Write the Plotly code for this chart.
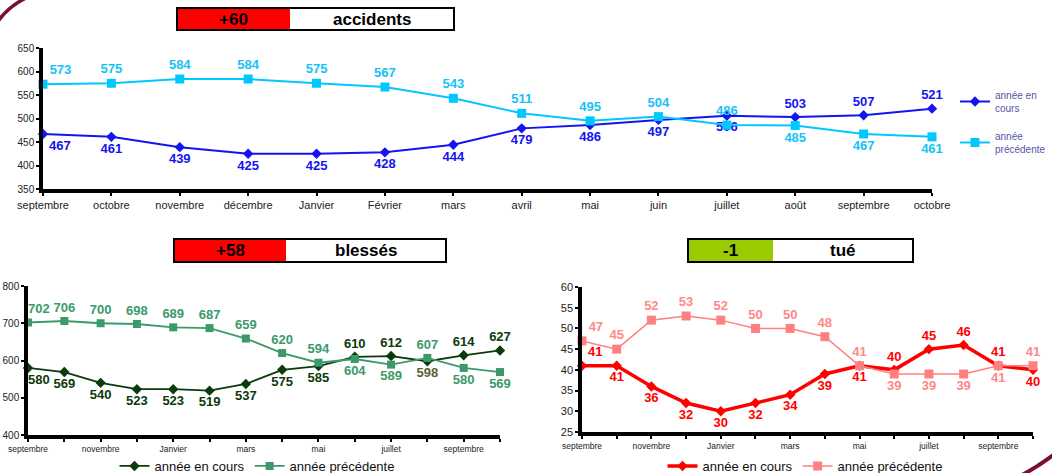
import plotly.graph_objects as go

W, H = 1052, 473

months = ["septembre", "octobre", "novembre", "décembre", "Janvier", "Février", "mars",
          "avril", "mai", "juin", "juillet", "août", "septembre", "octobre"]

acc_cur = [467, 461, 439, 425, 425, 428, 444, 479, 486, 497, 506, 503, 507, 521]
acc_prev = [573, 575, 584, 584, 575, 567, 543, 511, 495, 504, 486, 485, 467, 461]

bles_cur = [580, 569, 540, 523, 523, 519, 537, 575, 585, 610, 612, 598, 614, 627]
bles_prev = [702, 706, 700, 698, 689, 687, 659, 620, 594, 604, 589, 607, 580, 569]

tue_cur = [41, 41, 36, 32, 30, 32, 34, 39, 41, 40, 45, 46, 41, 40]
tue_prev = [47, 45, 52, 53, 52, 50, 50, 48, 41, 39, 39, 39, 41, 41]

titles = [("+60", "accidents"), ("+58", "blessés"), ("-1", "tué")]
serie_names = ["année en cours", "année précédente"]

FONT = "Liberation Sans, Arial, sans-serif"


def px(x):
    return x / W


def py(y):
    return (H - y) / H


x = list(range(len(months)))

# text positions
acc_cur_pos = ["bottom right"] + ["bottom center"] * 10 + ["top center"] * 3
acc_prev_pos = ["top right"] + ["top center"] * 10 + ["bottom center"] * 3
bl_cur_pos = ["bottom center"] * 9 + ["top center"] * 2 + ["bottom center"] + ["top center"] * 2
bl_prev_pos = ["top center"] * 9 + ["bottom center"] * 2 + ["top center"] + ["bottom center"] * 2
tu_cur_pos = ["top right"] + ["bottom center"] * 8 + ["top center"] * 4 + ["bottom center"]
tu_prev_pos = ["top right"] + ["top center"] * 8 + ["bottom center"] * 4 + ["top center"]

NB = "\u00a0" * 6  # padding so the first label of the small chart sits just right of the axis


def labels(vals, pad_first=False):
    out = [str(v) for v in vals]
    if pad_first:
        out[0] = NB + out[0]
    return out


fig = go.Figure()

lbl_font = dict(family=FONT, size=13)

# ---- top chart: accidents
fig.add_trace(go.Scatter(
    x=x, y=acc_cur, name="année en<br>cours", legend="legend", legendgroup="a",
    mode="lines+markers+text", text=labels(acc_cur), textposition=acc_cur_pos,
    line=dict(color="#1414f0", width=2), marker=dict(symbol="diamond", size=8, color="#1414f0"),
    textfont=dict(lbl_font, color="#1414f0", weight="bold"), cliponaxis=False,
    xaxis="x", yaxis="y"))
fig.add_trace(go.Scatter(
    x=x, y=acc_prev, name="année<br>précédente", legend="legend", legendgroup="b",
    mode="lines+markers+text", text=labels(acc_prev), textposition=acc_prev_pos,
    line=dict(color="#00c8ff", width=2), marker=dict(symbol="square", size=9, color="#00c8ff"),
    textfont=dict(lbl_font, color="#17c2f6", weight="bold"), cliponaxis=False,
    xaxis="x", yaxis="y"))

# ---- bottom-left: blessés
bl_cur_colors = ["#0b3a0b"] * len(bles_cur)
bl_cur_colors[11] = "#5a6238"
fig.add_trace(go.Scatter(
    x=x, y=bles_cur, name=serie_names[0], legend="legend2",
    mode="lines+markers+text", text=labels(bles_cur, True), textposition=bl_cur_pos,
    line=dict(color="#0b3a0b", width=1.8), marker=dict(symbol="diamond", size=8, color="#0b3a0b"),
    textfont=dict(lbl_font, color=bl_cur_colors, weight="bold"), cliponaxis=False,
    xaxis="x2", yaxis="y2"))
fig.add_trace(go.Scatter(
    x=x, y=bles_prev, name=serie_names[1], legend="legend2",
    mode="lines+markers+text", text=labels(bles_prev, True), textposition=bl_prev_pos,
    line=dict(color="#3a9a6a", width=1.8), marker=dict(symbol="square", size=8, color="#3a9a6a"),
    textfont=dict(lbl_font, color="#3a9a6a", weight="bold"), cliponaxis=False,
    xaxis="x2", yaxis="y2"))

# ---- bottom-right: tué
fig.add_trace(go.Scatter(
    x=x, y=tue_cur, name=serie_names[0], legend="legend3",
    mode="lines+markers+text", text=labels(tue_cur), textposition=tu_cur_pos,
    line=dict(color="#ff0000", width=3.5), marker=dict(symbol="diamond", size=8, color="#ff0000"),
    textfont=dict(lbl_font, color="#ff0000", weight="bold"), cliponaxis=False,
    xaxis="x3", yaxis="y3"))
fig.add_trace(go.Scatter(
    x=x, y=tue_prev, name=serie_names[1], legend="legend3",
    mode="lines+markers+text", text=labels(tue_prev), textposition=tu_prev_pos,
    line=dict(color="#ff8080", width=1.5), marker=dict(symbol="square", size=9, color="#ff8080"),
    textfont=dict(lbl_font, color="#ff8888", weight="bold"), cliponaxis=False,
    xaxis="x3", yaxis="y3"))

axis_common = dict(showline=True, linecolor="black", linewidth=3.5, ticks="outside",
                   ticklen=3, tickwidth=2, tickcolor="black", showgrid=False, zeroline=False,
                   automargin=False)

bottom_ticktext = [m if i % 2 == 0 else "" for i, m in enumerate(months)]

layout = dict(
    width=W, height=H, autosize=False,
    margin=dict(l=0, r=0, t=0, b=0, autoexpand=False),
    paper_bgcolor="white", plot_bgcolor="white",
    font=dict(family=FONT, color="#222"),
    xaxis=dict(axis_common, domain=[px(43), px(932)], range=[0, 13], tickvals=x, ticktext=months,
               tickfont=dict(size=11, color="#222"), anchor="y"),
    yaxis=dict(axis_common, domain=[py(189), py(48)], range=[350, 650], dtick=50,
               tickfont=dict(size=10, color="#222"), anchor="x"),
    xaxis2=dict(axis_common, domain=[px(28), px(500)], range=[0, 13], tickvals=x, ticktext=bottom_ticktext,
                tickfont=dict(size=8.5, color="#222"), anchor="y2"),
    yaxis2=dict(axis_common, domain=[py(435), py(286)], range=[400, 800], dtick=100,
                tickfont=dict(size=10, color="#222"), anchor="x2"),
    xaxis3=dict(axis_common, domain=[px(582), px(1033)], range=[0, 13], tickvals=x, ticktext=bottom_ticktext,
                tickfont=dict(size=8.5, color="#222"), anchor="y3"),
    yaxis3=dict(axis_common, domain=[py(432), py(287)], range=[25, 60], dtick=5,
                tickfont=dict(size=11, color="#222"), anchor="x3"),
    legend=dict(x=px(955), y=py(82), xanchor="left", yanchor="top", orientation="v",
                traceorder="grouped", tracegroupgap=12,
                font=dict(family=FONT, size=10, color="#5555a8"), bgcolor="rgba(0,0,0,0)",
                itemwidth=30),
    legend2=dict(x=px(257), y=py(466), xanchor="center", yanchor="middle", orientation="h",
                 font=dict(family=FONT, size=13, color="#111"), bgcolor="rgba(0,0,0,0)"),
    legend3=dict(x=px(805), y=py(466), xanchor="center", yanchor="middle", orientation="h",
                 font=dict(family=FONT, size=13, color="#111"), bgcolor="rgba(0,0,0,0)"),
    showlegend=True,
)
fig.update_layout(**layout)

# title boxes
boxes = [
    ((177, 290, 454), (8, 30), "#ff0000"),
    ((174, 286, 446), (239, 262), "#ff0000"),
    ((688, 773, 913), (239, 262), "#99cc00"),
]
shapes = []
annotations = []
for (xs, ys, col), (val, lab) in zip(boxes, titles):
    x0, xm, x1 = xs
    y0, y1 = ys
    shapes.append(dict(type="rect", xref="paper", yref="paper", x0=px(x0), x1=px(xm),
                       y0=py(y1), y1=py(y0), fillcolor=col, line=dict(width=0), layer="above"))
    shapes.append(dict(type="rect", xref="paper", yref="paper", x0=px(x0), x1=px(x1),
                       y0=py(y1), y1=py(y0), fillcolor="rgba(0,0,0,0)",
                       line=dict(color="black", width=2), layer="above"))
    annotations.append(dict(xref="paper", yref="paper", x=px((x0 + xm) / 2), y=py((y0 + y1) / 2),
                            text=f"<b>{val}</b>", showarrow=False, xanchor="center", yanchor="middle",
                            font=dict(family=FONT, size=17, color="black")))
    annotations.append(dict(xref="paper", yref="paper", x=px((xm + x1) / 2), y=py((y0 + y1) / 2),
                            text=f"<b>{lab}</b>", showarrow=False, xanchor="center", yanchor="middle",
                            font=dict(family=FONT, size=17, color="black")))


# decorative maroon arcs in corners
def pth(points):
    (ax, ay), (bx, by), (cx, cy) = points
    return f"M {px(ax)},{py(ay)} Q {px(bx)},{py(by)} {px(cx)},{py(cy)}"


shapes.append(dict(type="path", xref="paper", yref="paper", path=pth([(-4, 24), (8, 6), (28, -3)]),
                   line=dict(color="#7a1038", width=3.5)))
shapes.append(dict(type="path", xref="paper", yref="paper", path=pth([(1020, 476), (1036, 468), (1056, 453)]),
                   line=dict(color="#7a1038", width=4)))

fig.update_layout(shapes=shapes, annotations=annotations)

fig.write_html("out.html", config={"displayModeBar": False},
               post_script="document.body.style.margin='0';document.body.style.overflow='hidden';")
